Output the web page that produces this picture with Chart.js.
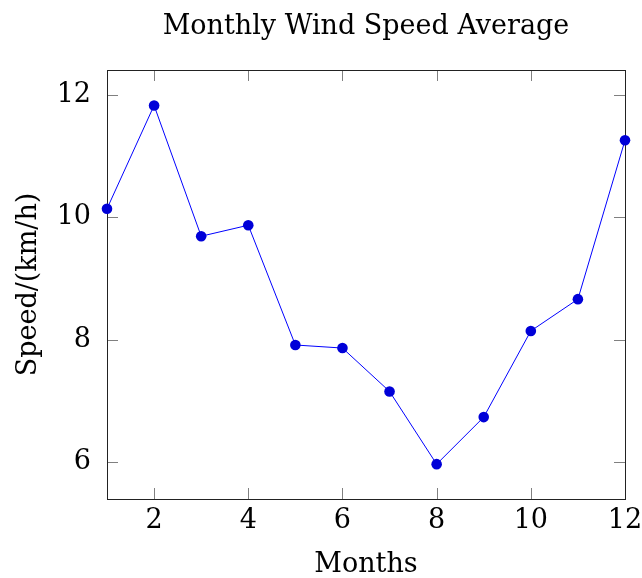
<!DOCTYPE html>
<html>
<head>
<meta charset="utf-8">
<script src="https://cdn.jsdelivr.net/npm/chart.js@4"></script>
<style>
  html, body { margin: 0; padding: 0; background: #fff; }
</style>
</head>
<body>
<canvas id="wind" width="642" height="578"></canvas>
<script>
// values
var months = [1, 2, 3, 4, 5, 6, 7, 8, 9, 10, 11, 12];
var speeds = [10.14, 11.83, 9.69, 9.87, 7.91, 7.86, 7.15, 5.96, 6.73, 8.14, 8.66, 11.26];
var xTicks = [2, 4, 6, 8, 10, 12];
var yTicks = [6, 8, 10, 12];

var serif = "'DejaVu Serif', 'Liberation Serif', serif";
var fontSize = 27;

// pgfplots style frame with inward ticks on all four sides
var frameTicks = {
    id: 'frameTicks',
    beforeDatasetsDraw: function(chart)
    {
        var a = chart.chartArea;
        var ctx = chart.ctx;
        var len = 11;
        ctx.save();
        ctx.strokeStyle = '#808080';
        ctx.lineWidth = 1;
        ctx.beginPath();
        xTicks.forEach(function(v)
        {
            var px = Math.round(chart.scales.x.getPixelForValue(v)) + 0.5;
            ctx.moveTo(px, a.bottom); ctx.lineTo(px, a.bottom - len);
            ctx.moveTo(px, a.top); ctx.lineTo(px, a.top + len);
        });
        yTicks.forEach(function(v)
        {
            var py = Math.round(chart.scales.y.getPixelForValue(v)) + 0.5;
            ctx.moveTo(a.left, py); ctx.lineTo(a.left + len, py);
            ctx.moveTo(a.right, py); ctx.lineTo(a.right - len, py);
        });
        ctx.stroke();
        ctx.strokeStyle = '#222';
        ctx.strokeRect(Math.round(a.left) + 0.5, Math.round(a.top) + 0.5,
            Math.round(a.right - a.left), Math.round(a.bottom - a.top));
        ctx.restore();
    }
};

var points = months.map(function(m, i) { return { x: m, y: speeds[i] }; });

new Chart(document.getElementById('wind'),
{
    type: 'line',
    data: {
        datasets: [{
            data: points,
            xAxisID: 'x',
            yAxisID: 'y',
            borderColor: '#0000ff',
            borderWidth: 1,
            pointRadius: 5.3,
            pointBorderWidth: 0,
            pointBackgroundColor: '#0000d8',
            pointBorderColor: '#0000d8',
            clip: false,
            tension: 0
        }]
    },
    options: {
        responsive: false,
        animation: false,
        layout: { padding: { left: 0, right: 17, top: 0, bottom: 0 } },
        plugins: {
            legend: { display: false },
            tooltip: { enabled: false },
            title: { display: false }
        },
        scales: {
            // top axis only carries the chart title, centred over the plot
            top: {
                type: 'linear',
                axis: 'x',
                position: 'top',
                min: 1,
                max: 12,
                afterFit: function(s) { s.height = 70; s.paddingLeft = 0; s.paddingRight = 0; },
                grid: { display: false, drawTicks: false },
                border: { display: false },
                ticks: { display: false },
                title: {
                    display: true,
                    text: 'Monthly Wind Speed Average',
                    color: '#000',
                    font: { family: serif, size: fontSize, lineHeight: 1 },
                    padding: { top: 13.5, bottom: 0 }
                }
            },
            x: {
                type: 'linear',
                position: 'bottom',
                min: 1,
                max: 12,
                afterBuildTicks: function(s) { s.ticks = xTicks.map(function(v) { return { value: v }; }); },
                afterFit: function(s) { s.height = 79; s.paddingLeft = 0; s.paddingRight = 0; },
                grid: { display: false, drawTicks: false },
                border: { display: false },
                ticks: { color: '#000', padding: 6, maxRotation: 0, font: { family: serif, size: fontSize } },
                title: {
                    display: true,
                    text: 'Months',
                    color: '#000',
                    font: { family: serif, size: fontSize, lineHeight: 1 },
                    padding: { top: 0, bottom: 0 }
                }
            },
            y: {
                type: 'linear',
                position: 'left',
                min: 5.39,
                max: 12.41,
                afterBuildTicks: function(s) { s.ticks = yTicks.map(function(v) { return { value: v }; }); },
                afterFit: function(s) { s.width = 107; s.paddingTop = 0; s.paddingBottom = 0; },
                grid: { display: false, drawTicks: false },
                border: { display: false },
                ticks: { color: '#000', padding: 16, font: { family: serif, size: fontSize } },
                title: {
                    display: true,
                    text: 'Speed/(km/h)',
                    color: '#000',
                    font: { family: serif, size: fontSize, lineHeight: 1 },
                    padding: { top: 15.5, bottom: 0 }
                }
            }
        }
    },
    plugins: [frameTicks]
});
</script>
</body>
</html>
